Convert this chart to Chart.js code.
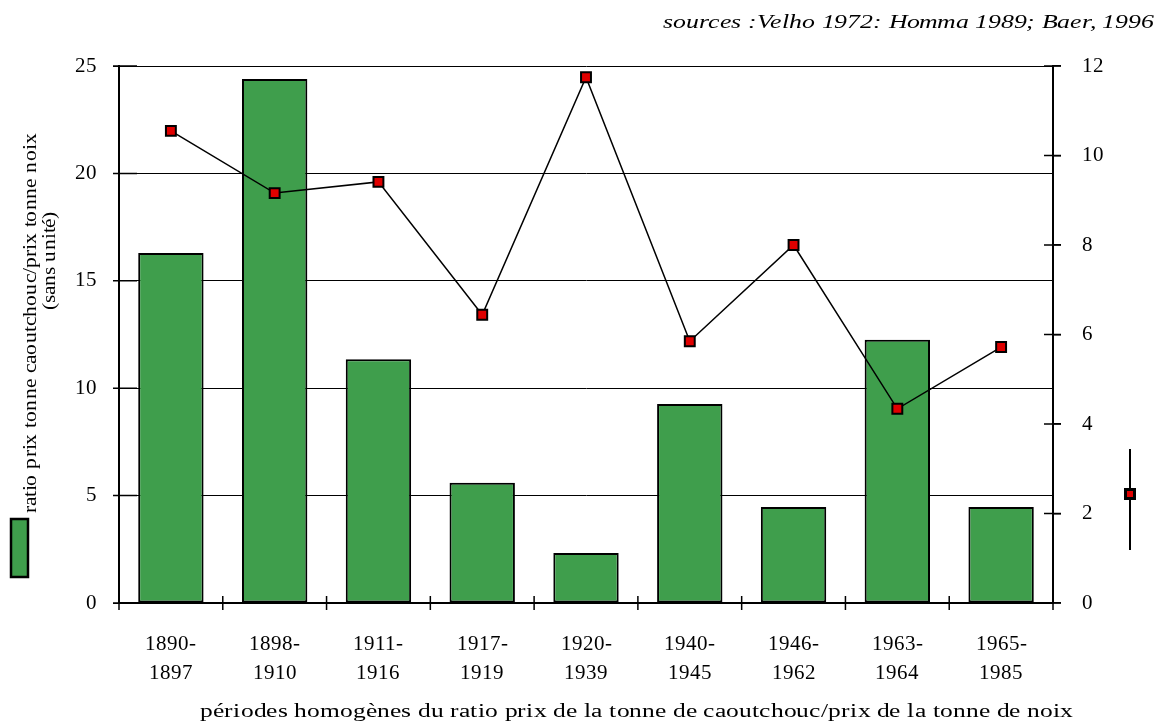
<!DOCTYPE html>
<html>
<head>
<meta charset="utf-8">
<script src="https://cdn.jsdelivr.net/npm/chart.js@4/dist/chart.umd.min.js"></script>
<style>
  @font-face { font-family: "LibSerif"; font-style: normal; src: local("Liberation Serif"), local("LiberationSerif"); }
  @font-face { font-family: "LibSerif"; font-style: italic; src: local("Liberation Serif Italic"), local("LiberationSerif-Italic"); }
  html, body { margin: 0; padding: 0; background: #fff; }
  #wrap { width: 1156px; height: 722px; position: relative; }
</style>
</head>
<body>
<div id="wrap"><canvas id="c" width="1156" height="722"></canvas></div>
<script>
const periods = [
  ["1890-", "1897"], ["1898-", "1910"], ["1911-", "1916"], ["1917-", "1919"],
  ["1920-", "1939"], ["1940-", "1945"], ["1946-", "1962"], ["1963-", "1964"],
  ["1965-", "1985"]
];
// ratio prix tonne caoutchouc / prix tonne noix (axe gauche)
const ratioValues = [16.3, 24.4, 11.35, 5.6, 2.33, 9.26, 4.47, 12.25, 4.47];
// serie en ligne (axe droit)
const lineValues = [10.55, 9.16, 9.41, 6.44, 11.75, 5.85, 8.0, 4.34, 5.72];
const leftTicks = [0, 5, 10, 15, 20, 25];
const rightTicks = [0, 2, 4, 6, 8, 10, 12];

const green = "#3f9e4c";
const serif = "LibSerif, 'Liberation Serif', 'Times New Roman', serif";

// draw text centred at (x, y), squeezed/stretched along its direction to a given length
function fitText(ctx, text, x, y, width, angle) {
  const w = ctx.measureText(text).width;
  ctx.save();
  ctx.translate(x, y);
  if (angle) ctx.rotate(angle);
  ctx.scale(width / w, 1);
  ctx.fillText(text, 0, 0);
  ctx.restore();
}

// texts, crossing ticks and hand-drawn legend marks around the plot
const extras = {
  id: "extras",
  afterDraw(chart) {
    const ctx = chart.ctx;
    const area = chart.chartArea;
    ctx.save();
    ctx.fillStyle = "#000";
    ctx.textBaseline = "middle";
    ctx.textAlign = "center";

    ctx.font = "italic 20px " + serif;
    fitText(ctx, "sources :Velho 1972: Homma 1989; Baer, 1996", 908.5, 23, 491);

    ctx.font = "20px " + serif;
    fitText(ctx, "périodes homogènes du ratio prix de la tonne de caoutchouc/prix de la tonne de noix", 636.5, 712, 873);

    ctx.font = "19px " + serif;
    fitText(ctx, "ratio prix tonne caoutchouc/prix tonne noix", 31, 323, 380, -Math.PI / 2);
    fitText(ctx, "(sans unité)", 50, 261, 98, -Math.PI / 2);

    // left legend swatch
    ctx.fillStyle = green;
    ctx.fillRect(11, 519, 17, 58);
    ctx.lineWidth = 2.5;
    ctx.strokeStyle = "#000";
    ctx.strokeRect(11, 519, 17, 58);

    // right legend marker
    ctx.lineWidth = 2;
    ctx.beginPath();
    ctx.moveTo(1130, 449);
    ctx.lineTo(1130, 550);
    ctx.stroke();
    ctx.fillStyle = "#000";
    ctx.fillRect(1124, 488, 12, 12);
    ctx.fillStyle = "#e00000";
    ctx.fillRect(1127, 491, 6, 6);

    // tick marks crossing the axes
    ctx.lineWidth = 1.5;
    ctx.beginPath();
    for (let i = 0; i <= periods.length; i++) {
      const px = area.left + i * (area.right - area.left) / periods.length;
      ctx.moveTo(px, area.bottom - 7);
      ctx.lineTo(px, area.bottom + 7);
    }
    leftTicks.forEach(v => {
      const py = chart.scales.y.getPixelForValue(v);
      ctx.moveTo(area.left - 6, py);
      ctx.lineTo(area.left + 18, py);
    });
    rightTicks.forEach(v => {
      const py = chart.scales.y1.getPixelForValue(v);
      ctx.moveTo(area.right - 9, py);
      ctx.lineTo(area.right + 8, py);
    });
    ctx.stroke();
    ctx.restore();
  }
};

function draw() {
  new Chart(document.getElementById("c"), {
    type: "bar",
    data: {
      labels: periods,
      datasets: [
        {
          type: "line",
          data: lineValues,
          yAxisID: "y1",
          borderColor: "#000",
          borderWidth: 1.5,
          pointStyle: "rect",
          pointRadius: 7,
          pointBorderWidth: 2,
          pointBackgroundColor: "#e00000",
          pointBorderColor: "#000",
          tension: 0,
          order: 0
        },
        {
          type: "bar",
          data: ratioValues,
          yAxisID: "y",
          backgroundColor: green,
          borderColor: "#000",
          borderWidth: 2,
          borderSkipped: false,
          barPercentage: 0.63,
          categoryPercentage: 1,
          order: 1
        }
      ]
    },
    options: {
      responsive: false,
      animation: false,
      layout: { padding: { top: 66, left: 0, right: 0, bottom: 0 } },
      plugins: { legend: { display: false }, tooltip: { enabled: false } },
      scales: {
        x: {
          offset: true,
          grid: { display: false },
          border: { color: "#000", width: 2 },
          ticks: {
            color: "#000",
            font: { family: serif, size: 21, lineHeight: 1.38 },
            padding: 19,
            maxRotation: 0
          },
          afterFit(s) { s.height = 119; }
        },
        y: {
          position: "left",
          min: 0,
          max: 25,
          afterBuildTicks(s) { s.ticks = leftTicks.map(v => ({ value: v })); },
          grid: { color: "#000", lineWidth: 1, tickLength: 6 },
          border: { color: "#000", width: 2 },
          ticks: { color: "#000", font: { family: serif, size: 21 }, padding: 16 },
          afterFit(s) { s.width = 119; }
        },
        y1: {
          position: "right",
          min: 0,
          max: 12,
          afterBuildTicks(s) { s.ticks = rightTicks.map(v => ({ value: v })); },
          grid: { drawOnChartArea: false, color: "#000", lineWidth: 1.5, tickLength: 8 },
          border: { color: "#000", width: 2 },
          ticks: { color: "#000", font: { family: serif, size: 21 }, padding: 21 },
          afterFit(s) { s.width = 103; }
        }
      }
    },
    plugins: [extras]
  });
}

Promise.all([
  document.fonts.load("21px LibSerif"),
  document.fonts.load("italic 20px LibSerif")
]).then(draw, draw);
</script>
</body>
</html>
